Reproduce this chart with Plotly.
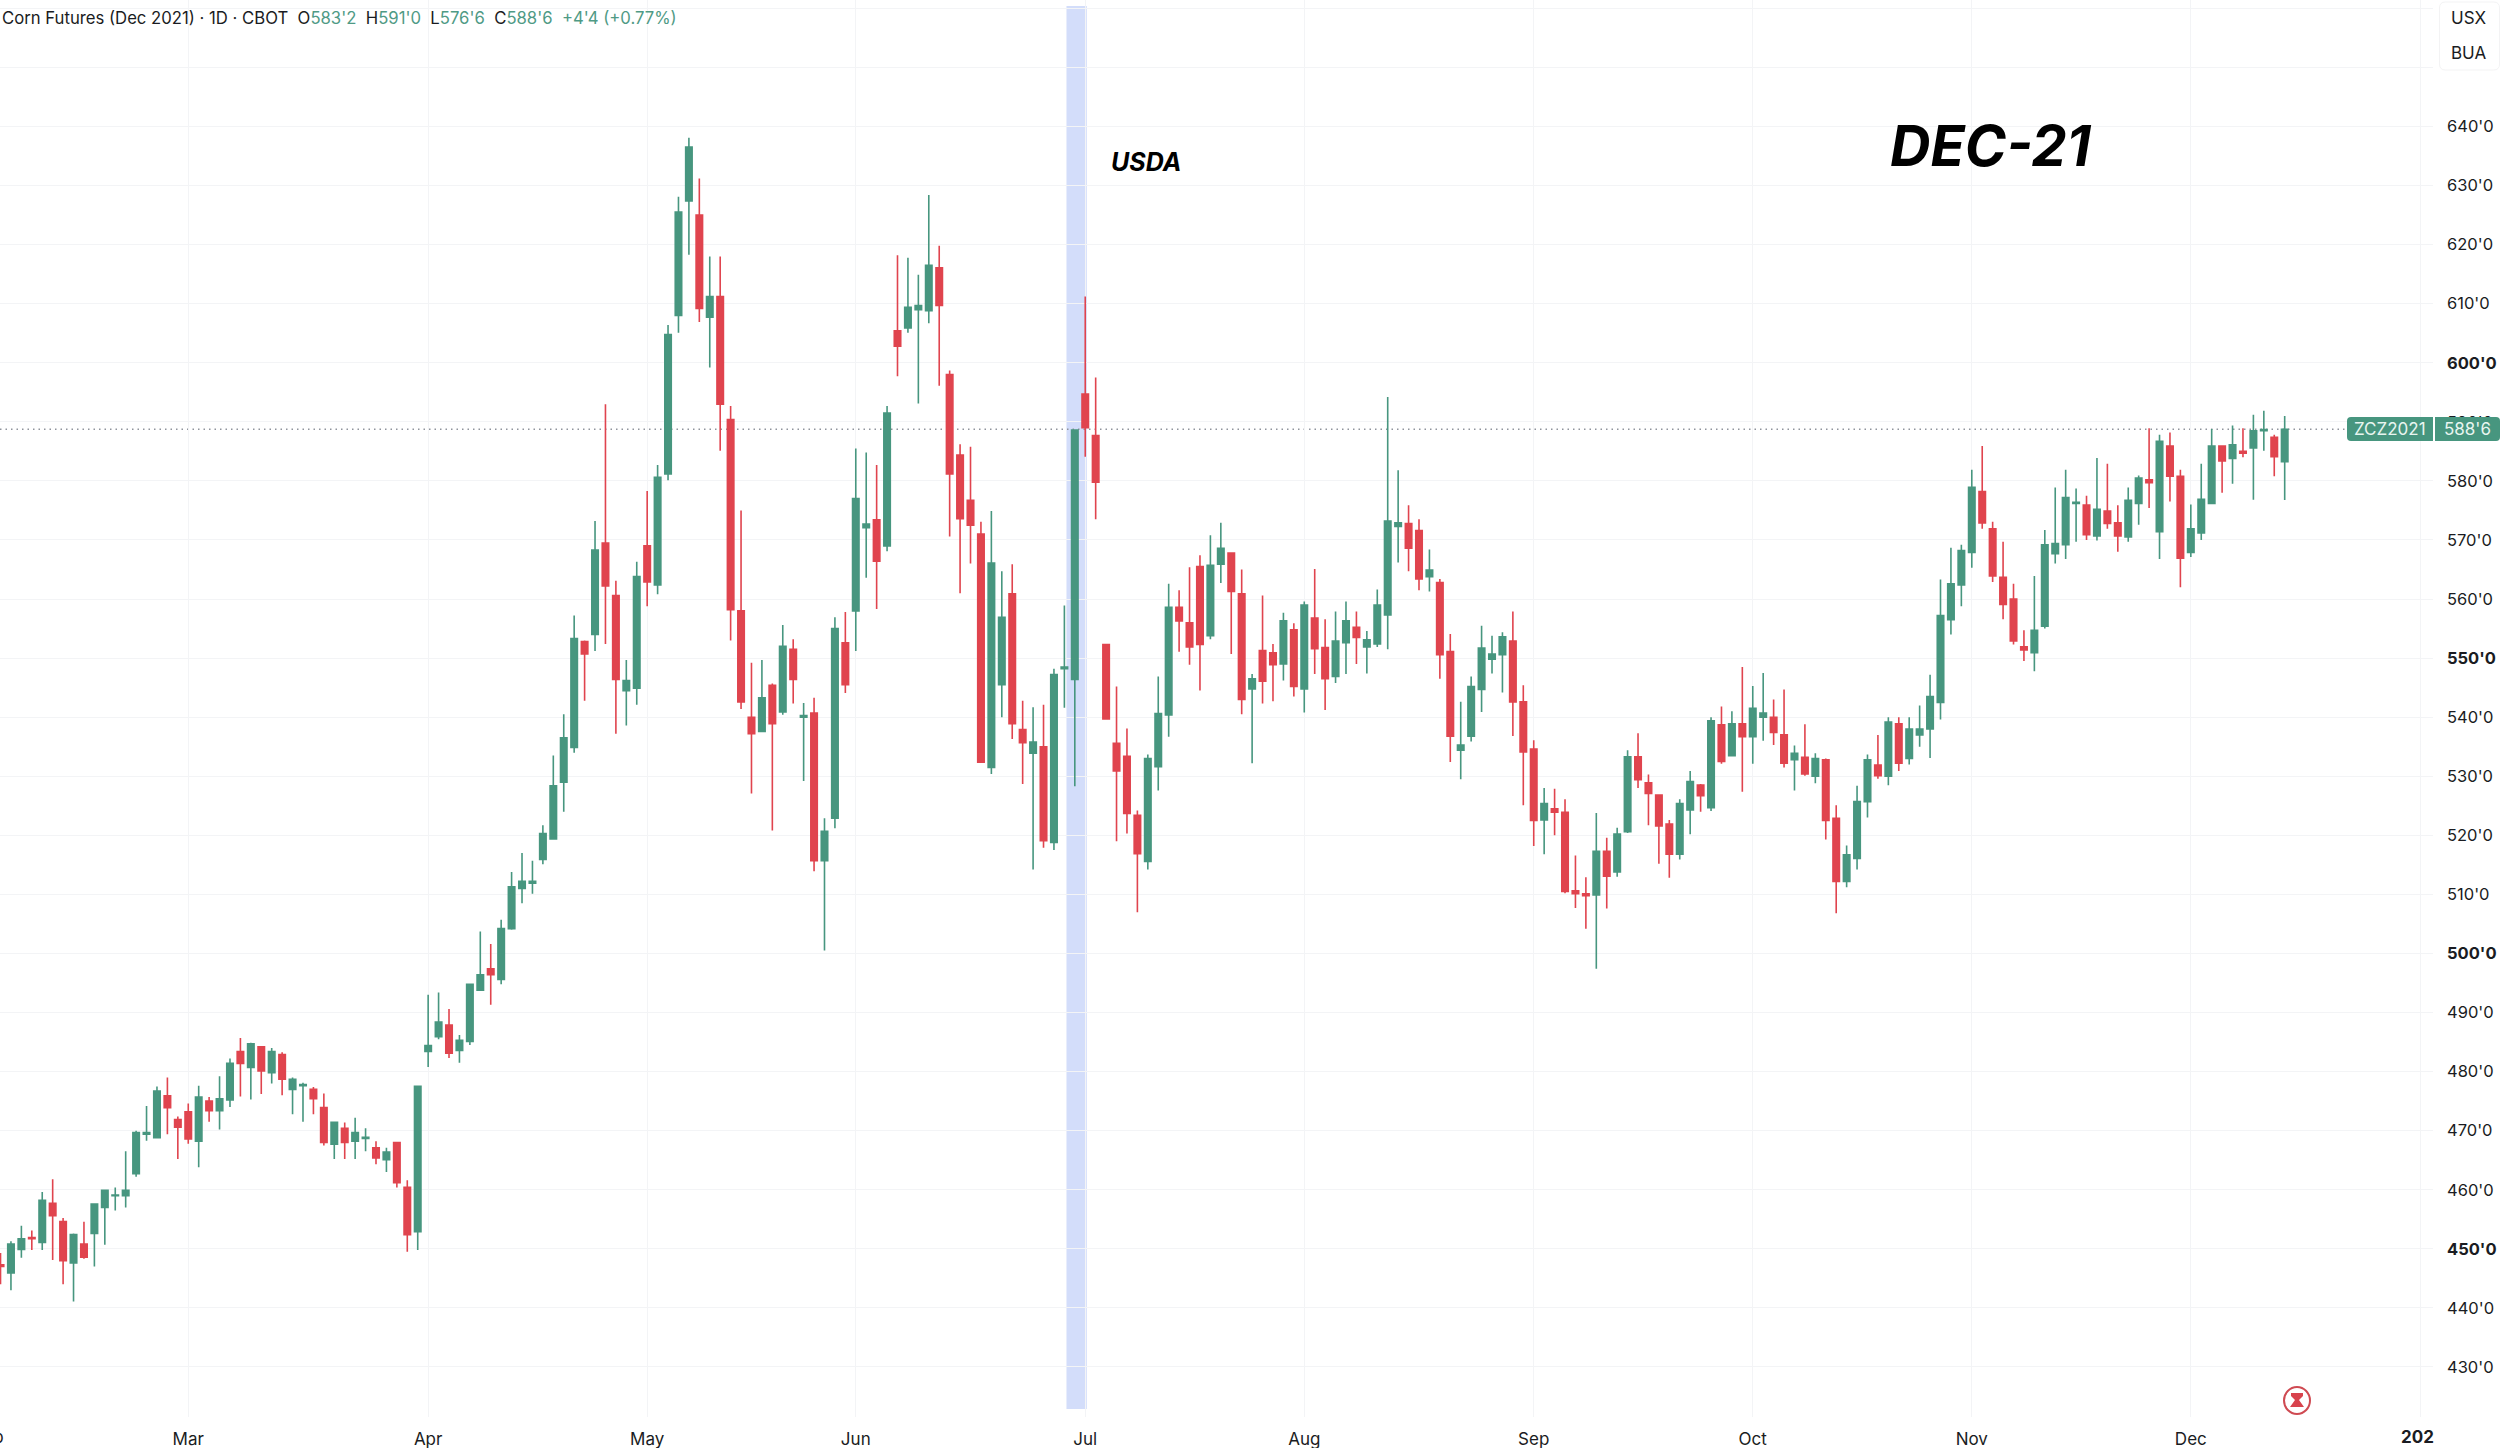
import plotly.graph_objects as go

open_prices = [
 447.3,445.9,449.9,451.9,451.1,457.7,454.6,447.6,450.8,452.6,
 457.0,459.0,459.0,462.7,469.4,468.8,475.9,471.9,473.2,468.2,
 475.0,473.4,475.2,483.4,480.7,484.2,479.8,482.9,477.0,477.6,
 477.0,473.9,467.7,470.4,468.2,468.7,467.1,465.1,468.0,460.4,
 452.9,483.4,485.9,487.9,483.6,485.1,493.8,497.4,495.6,504.2,
 511.0,511.9,515.9,519.4,529.0,534.9,552.8,554.0,569.5,560.6,
 544.5,544.9,569.0,562.4,581.2,608.0,627.4,625.0,607.7,611.2,
 590.4,558.0,540.0,537.6,545.4,540.9,551.5,540.0,540.7,515.7,
 522.9,552.6,558.0,572.1,573.4,569.0,605.4,605.9,609.0,608.8,
 616.1,598.0,584.4,576.7,571.0,531.5,545.5,560.9,537.9,533.9,
 535.0,518.8,548.2,546.4,594.7,587.7,552.3,535.6,533.4,523.4,
 515.6,531.6,540.4,558.6,556.0,565.5,553.8,565.9,567.8,560.9,
 544.8,551.3,550.9,549.0,554.8,544.8,556.8,551.8,546.9,552.6,
 555.2,551.9,552.4,557.3,572.3,572.8,571.6,563.8,562.8,551.1,
 534.4,536.8,544.7,549.8,550.6,552.9,542.6,534.6,522.6,524.5,
 523.9,510.6,510.1,509.9,517.3,513.8,520.6,533.3,528.9,526.8,
 521.9,516.8,524.3,528.5,524.7,538.7,533.5,538.9,536.7,540.0,
 540.0,537.0,532.8,533.2,530.0,532.8,522.9,512.2,516.1,525.7,
 531.9,530.0,538.9,533.0,537.0,538.0,542.5,556.5,562.4,567.9,
 578.2,571.9,563.7,560.0,551.9,550.9,555.4,567.7,569.2,576.2,
 575.9,570.7,574.9,572.9,570.5,576.2,580.2,571.4,585.9,580.8,
 567.9,571.2,576.2,585.9,583.8,585.0,585.6,588.5,587.4,583.25,
]
high_prices = [
 449.3,451.3,453.9,453.1,459.6,461.8,455.2,452.6,454.6,457.6,
 459.9,460.4,466.5,470.0,474.2,477.5,479.0,472.4,474.6,477.6,
 475.7,479.2,482.2,485.7,484.9,484.2,484.0,483.3,479.0,478.1,
 477.4,476.3,471.4,471.4,472.2,470.4,468.2,467.1,468.0,461.6,
 477.5,493.0,493.4,490.6,486.2,494.8,503.7,501.6,505.7,513.8,
 517.0,515.7,521.7,533.5,540.5,557.2,553.0,573.2,593.0,563.1,
 549.7,566.3,578.3,582.7,606.4,628.1,638.1,631.2,618.0,618.0,
 592.7,575.0,549.2,549.7,545.7,555.6,553.2,542.4,543.3,522.9,
 556.9,557.8,585.5,584.8,582.7,592.7,618.2,617.8,614.9,628.4,
 619.8,598.7,586.2,585.8,573.1,574.9,564.7,565.9,542.8,541.7,
 542.1,548.2,558.9,588.6,611.2,597.5,552.3,545.2,538.1,524.2,
 533.7,546.9,562.6,561.5,565.4,567.4,570.8,572.9,567.8,565.0,
 547.3,560.6,552.4,557.7,555.9,559.6,565.1,556.6,557.9,559.6,
 557.9,554.6,561.6,594.2,581.8,575.9,573.5,568.4,563.4,554.1,
 542.6,546.9,555.5,553.8,554.4,557.9,545.4,536.1,528.0,527.9,
 526.1,516.6,512.9,523.8,519.6,521.3,534.4,537.3,530.3,526.8,
 522.6,526.1,530.9,528.7,540.0,541.8,541.0,548.5,545.3,547.5,
 543.0,544.7,535.2,538.8,533.9,533.0,525.1,518.3,528.4,533.7,
 537.0,540.0,540.0,540.0,542.0,547.2,563.3,568.7,569.2,581.9,
 585.9,573.1,569.7,562.6,554.7,563.9,571.7,578.9,581.9,578.7,
 577.5,583.9,582.9,575.9,578.9,580.9,588.9,587.8,588.2,581.9,
 576.0,582.9,588.8,585.9,589.4,588.9,591.2,591.9,587.8,591.0,
]
low_prices = [
 444.0,443.0,448.5,449.8,449.8,448.1,444.0,441.1,448.3,447.0,
 450.7,456.5,457.0,462.2,468.3,468.7,469.4,465.2,467.8,463.8,
 471.5,470.2,474.0,475.8,475.3,476.2,478.0,476.0,472.8,471.5,
 472.8,467.5,465.2,465.2,465.2,466.5,464.3,463.0,460.4,449.5,
 449.8,480.8,485.5,482.3,481.5,484.5,493.8,491.3,494.8,504.0,
 508.5,510.1,515.1,519.3,524.0,534.0,542.8,551.2,552.4,537.2,
 538.6,542.1,558.8,560.8,580.1,605.1,618.3,606.9,599.2,585.1,
 553.0,541.4,527.1,537.5,520.8,540.4,542.3,529.2,513.9,500.5,
 521.2,544.1,551.2,563.6,558.3,568.1,597.7,605.1,593.1,606.7,
 596.1,570.6,561.0,566.0,532.4,530.4,540.0,536.3,528.7,514.2,
 517.9,517.5,541.6,528.3,584.1,573.5,539.7,519.0,520.3,507.0,
 514.2,527.6,536.7,551.1,548.9,544.5,553.2,562.7,550.7,540.5,
 532.2,542.3,542.7,546.2,543.5,540.8,547.3,541.2,545.8,547.3,
 549.0,547.4,551.9,551.5,566.2,564.7,561.5,561.3,546.5,532.4,
 529.5,535.9,540.9,547.4,544.2,536.8,525.1,518.2,516.8,520.0,
 510.2,507.7,504.2,497.4,507.6,513.0,520.4,528.0,521.7,515.2,
 512.8,515.9,520.2,524.0,524.1,532.1,533.4,527.4,532.1,536.0,
 535.3,531.5,527.6,530.1,528.8,519.3,506.8,511.2,514.2,523.0,
 529.6,528.5,530.9,532.0,535.0,533.1,539.6,554.0,558.8,565.3,
 571.9,562.9,556.6,552.3,549.5,547.8,555.0,566.0,566.8,569.7,
 570.0,569.9,571.9,568.0,569.7,572.6,575.4,566.8,576.5,562.0,
 567.1,570.0,576.2,578.0,579.5,584.0,576.8,585.1,580.8,576.75,
]
close_prices = [
 447.0,450.8,451.7,451.7,458.2,455.6,448.0,452.4,448.6,457.6,
 459.9,459.1,459.9,469.7,469.7,476.7,473.9,470.6,468.6,475.7,
 473.4,475.4,481.4,481.4,484.7,480.1,483.4,478.7,478.7,477.8,
 475.4,468.0,471.4,468.0,469.7,468.9,465.4,466.4,461.2,452.4,
 477.5,484.4,488.4,483.1,485.3,494.8,496.4,496.4,504.2,511.3,
 512.2,512.2,520.3,528.4,536.5,553.3,550.7,568.3,562.2,546.4,
 546.2,563.8,562.9,580.6,604.8,625.5,636.5,609.2,611.2,593.0,
 558.2,542.6,537.2,543.3,538.9,552.0,546.4,540.3,515.7,520.7,
 555.0,545.5,577.0,572.7,566.4,591.5,602.8,609.4,609.7,616.5,
 609.7,581.2,573.6,572.5,532.4,566.1,556.9,538.9,535.7,535.8,
 519.1,547.2,548.5,588.6,589.0,579.8,539.7,530.9,523.7,516.9,
 533.0,540.6,558.6,556.3,551.9,552.3,565.7,568.6,561.3,543.0,
 546.5,546.1,548.9,556.3,545.2,559.0,551.6,546.5,552.9,556.3,
 553.5,553.1,559.0,573.2,572.9,568.6,563.4,564.9,550.6,536.8,
 535.3,545.2,551.7,550.7,553.6,542.6,534.1,522.5,525.4,523.9,
 510.5,510.1,509.8,517.3,513.1,520.2,533.3,529.4,527.1,521.6,
 516.8,525.4,529.1,526.7,539.4,532.5,538.9,536.7,541.5,540.7,
 537.4,532.2,533.9,530.4,533.0,522.5,512.2,516.7,525.7,532.8,
 530.1,539.2,532.2,538.0,538.0,543.5,557.2,562.6,568.2,578.9,
 572.9,563.9,559.1,552.9,551.4,554.7,569.2,569.4,577.2,576.4,
 570.9,575.2,572.8,570.7,576.7,580.5,579.7,586.7,580.8,566.9,
 571.9,576.9,585.9,583.4,586.1,584.7,588.5,588.7,584.1,588.75,
]
session_index = list(range(len(close_prices)))

month_positions = [18, 41, 62, 82, 104, 125, 147, 168, 189, 210, 232]
month_labels = ["Mar", "Apr", "May", "Jun", "Jul", "Aug", "Sep", "Oct", "Nov", "Dec", ""]
price_ticks = list(range(430, 670, 10))
price_labels = []
for p in price_ticks:
    if p >= 650:
        price_labels.append("")
    elif p % 50 == 0:
        price_labels.append(f"<b>{p}'0</b>")
    else:
        price_labels.append(f"{p}'0")

GREEN = "#47967f"
RED = "#e0444e"
GRID = "#f3f4f6"
TEXT = "#1a1c22"
FONT = "Inter"
W, H = 2500, 1448
PL_W, PL_H = 2433, 1417

def px(x):
    return x / PL_W

def py(y):
    return 1 - y / PL_H

fig = go.Figure(go.Candlestick(
    x=session_index, open=open_prices, high=high_prices, low=low_prices, close=close_prices,
    increasing=dict(line=dict(color=GREEN, width=1.6), fillcolor=GREEN),
    decreasing=dict(line=dict(color=RED, width=1.6), fillcolor=RED),
    whiskerwidth=0, showlegend=False, hoverinfo="skip",
))

def rrect(x0, y0, x1, y1, r, left=True, right=True):
    X0, X1, Y0, Y1 = px(x0), px(x1), py(y0), py(y1)
    rx, ry = r / PL_W, r / PL_H
    s = ""
    if left:
        s += f"M{X0},{Y0-ry} Q{X0},{Y0} {X0+rx},{Y0} "
    else:
        s += f"M{X0},{Y0} "
    if right:
        s += f"L{X1-rx},{Y0} Q{X1},{Y0} {X1},{Y0-ry} L{X1},{Y1+ry} Q{X1},{Y1} {X1-rx},{Y1} "
    else:
        s += f"L{X1},{Y0} L{X1},{Y1} "
    if left:
        s += f"L{X0+rx},{Y1} Q{X0},{Y1} {X0},{Y1+ry} Z"
    else:
        s += f"L{X0},{Y1} Z"
    return s

shapes = [
    dict(type="rect", layer="below", xref="x", yref="paper", x0=102.2, x1=104.15,
         y0=py(1409), y1=py(6), fillcolor="#d3ddfa", line=dict(width=0)),
    dict(type="line", layer="below", xref="paper", yref="y", x0=0, x1=px(2347),
         y0=close_prices[-1], y1=close_prices[-1],
         line=dict(color="#8f939c", width=1.5, dash="1.5px,4px")),
    dict(type="path", xref="paper", yref="paper", path=rrect(2347, 417, 2433, 441, 4, True, False),
         fillcolor=GREEN, line=dict(width=0)),
    dict(type="path", xref="paper", yref="paper", path=rrect(2435, 417, 2500, 441, 4, False, True),
         fillcolor=GREEN, line=dict(width=0)),
    dict(type="path", xref="paper", yref="paper", path=rrect(2439.5, 2, 2499.5, 70, 6),
         fillcolor="#ffffff", line=dict(color="#f3f3f4", width=1)),
    dict(type="circle", xref="paper", yref="paper", x0=px(2284), x1=px(2310), y0=py(1414), y1=py(1387),
         fillcolor="#ffffff", line=dict(color="#cf4a52", width=2)),
    dict(type="path", xref="paper", yref="paper",
         path=(f"M{px(2291)},{py(1393)} L{px(2303)},{py(1393)} L{px(2303)},{py(1396)} "
               f"L{px(2299)},{py(1400)} L{px(2304)},{py(1407)} L{px(2290)},{py(1407)} "
               f"L{px(2295)},{py(1400)} L{px(2291)},{py(1396)} Z"),
         fillcolor="#d8434d", line=dict(width=0)),
]

head_green = "#4f9a85"
gap = "\u00a0\u00a0"
title_html = (
    f"Corn Futures (Dec 2021) · 1D · CBOT{gap}"
    f"O<span style='color:{head_green}'>583'2</span>{gap}"
    f"H<span style='color:{head_green}'>591'0</span>{gap}"
    f"L<span style='color:{head_green}'>576'6</span>{gap}"
    f"C<span style='color:{head_green}'>588'6</span>{gap}"
    f"<span style='color:{head_green}'>+4'4 (+0.77%)</span>"
)

def note(text, x, y, size, color=TEXT, xanchor="center", family=FONT):
    return dict(text=text, xref="paper", yref="paper", x=px(x), y=py(y), showarrow=False,
                xanchor=xanchor, yanchor="middle", font=dict(family=family, size=size, color=color),
                borderpad=0, borderwidth=0)

annotations = [
    note(title_html, 2, 18, 16.7, xanchor="left"),
    note("<b><i>USDA</i></b>", 1146, 162, 25, "#000000"),
    note("<b><i>DEC-21</i></b>", 1990, 146, 56, "#000000"),
    note("USX", 2468, 18, 17),
    note("BUA", 2468, 53, 17),
    note("ZCZ2021", 2390, 429, 17, "#e8f5f0"),
    note("588'6", 2467, 429, 17, "#e8f5f0"),
    note("<b>202</b>", 2417, 1437, 17),
    note("Feb", 4, 1437, 17, xanchor="right"),
]

fig.update_layout(
    width=W, height=H, autosize=False,
    margin=dict(l=0, r=W - PL_W, t=0, b=H - PL_H, pad=0),
    paper_bgcolor="#ffffff", plot_bgcolor="#ffffff",
    showlegend=False, boxgap=0.38, boxgroupgap=0, dragmode=False,
    font=dict(family=FONT, color=TEXT, size=17),
    shapes=shapes, annotations=annotations,
    xaxis=dict(
        type="linear", range=[-0.05, PL_W / 10.43 - 0.05], rangeslider=dict(visible=False),
        tickmode="array", tickvals=month_positions, ticktext=month_labels,
        showgrid=True, gridcolor=GRID, gridwidth=1, zeroline=False, showline=False,
        ticks="", ticklabelstandoff=10, tickfont=dict(family=FONT, size=17, color=TEXT),
    ),
    yaxis=dict(
        side="right", range=[640 - (PL_H - 126.5) / 5.907, 640 + 126.5 / 5.907],
        tickmode="array", tickvals=price_ticks, ticktext=price_labels,
        showgrid=True, gridcolor=GRID, gridwidth=1, zeroline=False, showline=False,
        ticks="", ticklabelstandoff=13, tickfont=dict(family=FONT, size=16.5, color=TEXT),
    ),
)

fig.write_html("out.html", config=dict(displayModeBar=False),
               post_script="document.body.style.margin='0';document.body.style.overflow='hidden';")
